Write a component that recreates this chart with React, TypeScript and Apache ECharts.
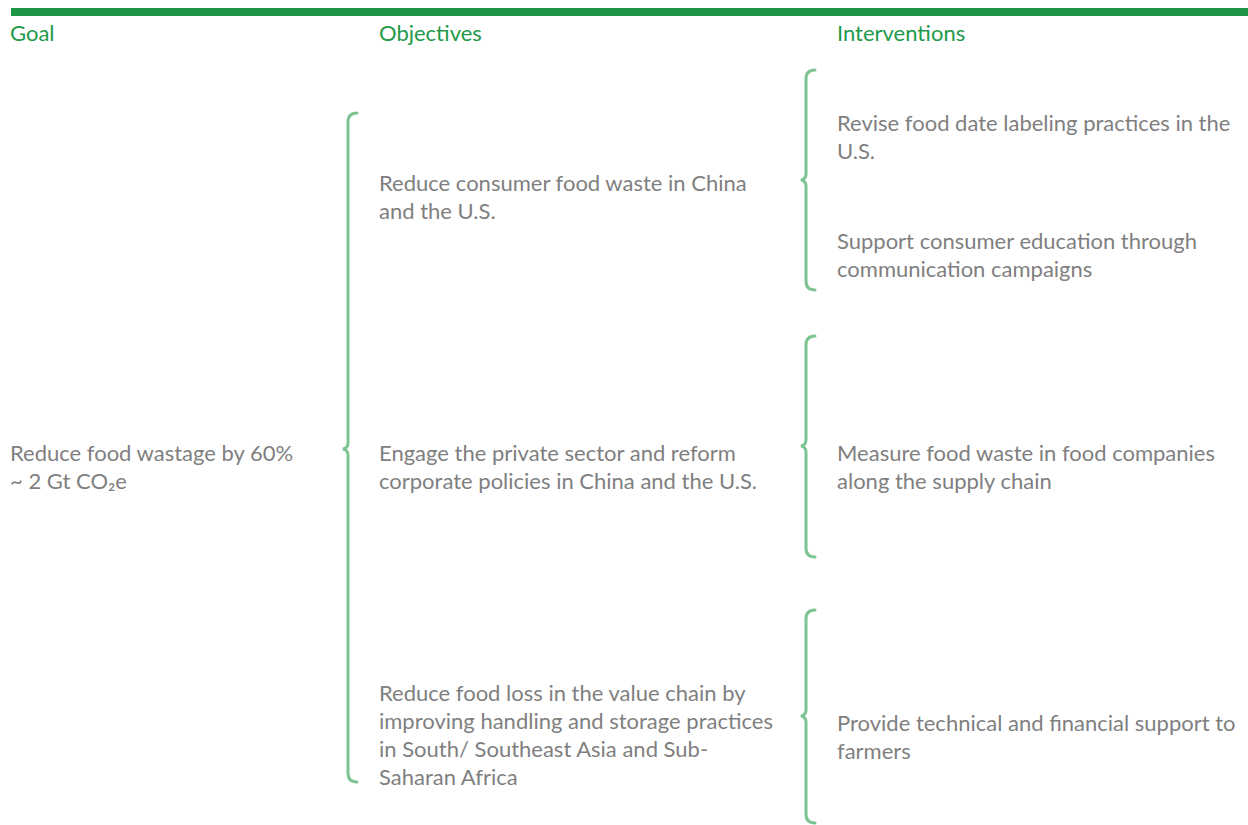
import React, { useEffect, useRef } from "react";
import * as echarts from "echarts";

// ---- content ----
const headers: string[] = ["Goal", "Objectives", "Interventions"];
const goalLines: string[] = ["Reduce food wastage by 60%", "~ 2 Gt CO₂e"];
const objectives: string[][] = [
  ["Reduce consumer food waste in China", "and the U.S."],
  ["Engage the private sector and reform", "corporate policies in China and the U.S."],
  [
    "Reduce food loss in the value chain by",
    "improving handling and storage practices",
    "in South/ Southeast Asia and Sub-",
    "Saharan Africa",
  ],
];
const interventions: string[][] = [
  ["Revise food date labeling practices in the", "U.S."],
  ["Support consumer education through", "communication campaigns"],
  ["Measure food waste in food companies", "along the supply chain"],
  ["Provide technical and financial support to", "farmers"],
];

// ---- layout (positions/styles) ----
const FONT_FAMILY = "Lato, 'Open Sans', sans-serif";
const FONT_SIZE = 22;
const LINE_H = 28;
const HEADER_COLOR = "#1e9a4a";
const TEXT_COLOR = "#7f7f7f";
const BRACE_COLOR = "#7cc592";
const colX = [10, 379, 837];
const headerY = 32;
const goalTopY = 452;
const objTopY = [182, 452, 692];
const intTopY = [122, 240, 452, 722];
// brace: [x, top, bottom, mid, tipX]
const braces: number[][] = [
  [348, 113, 782, 449, 343],
  [806, 70, 290, 180, 801],
  [806, 336, 557, 446, 801],
  [806, 610, 823, 716, 801],
];

echarts.graphic.registerShape(
  "brace",
  echarts.graphic.extendShape({
    shape: { x: 0, top: 0, bottom: 0, mid: 0, tipX: 0, r: 9 },
    buildPath(ctx: any, s: any) {
      const { x, top, bottom, mid, tipX, r } = s;
      ctx.moveTo(x + r, top);
      ctx.quadraticCurveTo(x, top, x, top + r);
      ctx.lineTo(x, mid - 6);
      ctx.quadraticCurveTo(x, mid - 1, tipX, mid);
      ctx.quadraticCurveTo(x, mid + 1, x, mid + 6);
      ctx.lineTo(x, bottom - r);
      ctx.quadraticCurveTo(x, bottom, x + r, bottom);
    },
  }) as any
);

function textBlock(lines: string[], x: number, y0: number, color: string) {
  return lines.map((t, i) => ({
    type: "text",
    x,
    y: y0 + i * LINE_H,
    style: {
      text: t,
      fill: color,
      font: `${FONT_SIZE}px ${FONT_FAMILY}`,
      verticalAlign: "middle",
      align: "left",
    },
  }));
}

export default function App() {
  const ref = useRef<HTMLDivElement>(null);
  useEffect(() => {
    if (!ref.current) return;
    const chart = echarts.init(ref.current, undefined, { renderer: "svg" });
    const elements: any[] = [];
    elements.push({
      type: "rect",
      shape: { x: 11, y: 8, width: 1237, height: 8 },
      style: { fill: "#1e9646" },
    });
    headers.forEach((h, i) => {
      elements.push(...textBlock([h], colX[i], headerY, HEADER_COLOR));
    });
    elements.push(...textBlock(goalLines, colX[0], goalTopY, TEXT_COLOR));
    objectives.forEach((o, i) => elements.push(...textBlock(o, colX[1], objTopY[i], TEXT_COLOR)));
    interventions.forEach((o, i) => elements.push(...textBlock(o, colX[2], intTopY[i], TEXT_COLOR)));
    braces.forEach((b) => {
      elements.push({
        type: "brace",
        shape: { x: b[0], top: b[1], bottom: b[2], mid: b[3], tipX: b[4], r: 9 },
        style: { stroke: BRACE_COLOR, lineWidth: 3, fill: "none", lineCap: "round" },
      });
    });
    chart.setOption({
      animation: false,
      backgroundColor: "#ffffff",
      graphic: { elements },
    });
    return () => chart.dispose();
  }, []);
  return (
    <div
      ref={ref}
      style={{ position: "absolute", left: 0, top: 0, width: 1248, height: 825 }}
    />
  );
}
